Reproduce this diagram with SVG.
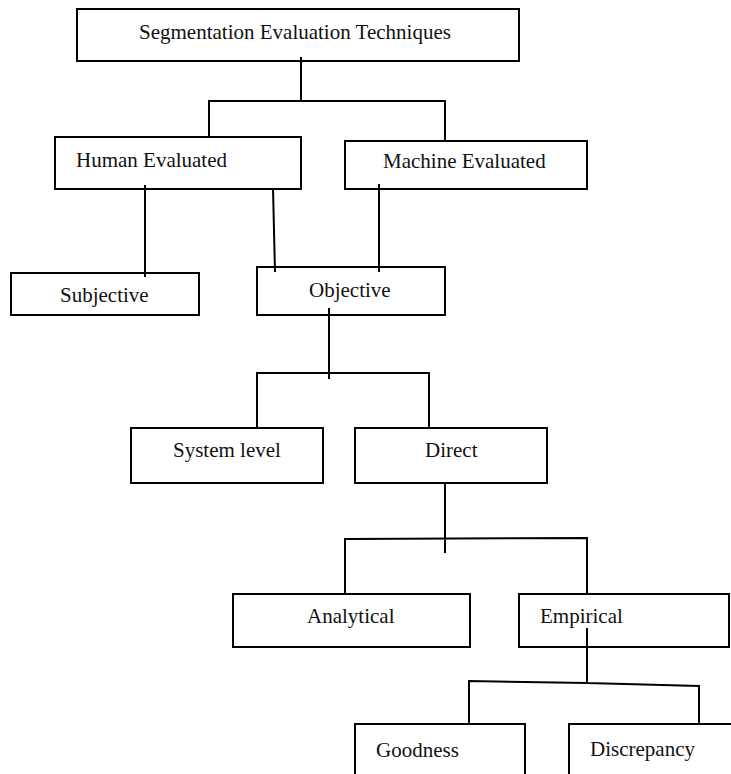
<svg xmlns="http://www.w3.org/2000/svg" width="731" height="774" viewBox="0 0 731 774">
<style>
.box{fill:#fff;stroke:#000;stroke-width:2}
.t{font-family:"Liberation Serif","Times New Roman",serif;font-size:21px;fill:#111}
.c{fill:none;stroke:#000;stroke-width:2}
</style>
<rect width="731" height="774" fill="#fff"/>
<g id="n-root"><rect class="box" x="77" y="9" width="442" height="52"/><text class="t" x="139" y="39">Segmentation Evaluation Techniques</text></g>
<g id="n-human"><rect class="box" x="55" y="137" width="246" height="52"/><text class="t" x="76" y="167">Human Evaluated</text></g>
<g id="n-machine"><rect class="box" x="345" y="141" width="242" height="48"/><text class="t" x="383" y="168">Machine Evaluated</text></g>
<g id="n-subjective"><rect class="box" x="11" y="273" width="188" height="42"/><text class="t" x="60" y="302">Subjective</text></g>
<g id="n-objective"><rect class="box" x="257" y="267" width="188" height="48"/><text class="t" x="309" y="297">Objective</text></g>
<g id="n-system"><rect class="box" x="131" y="428" width="192" height="55"/><text class="t" x="173" y="457">System level</text></g>
<g id="n-direct"><rect class="box" x="355" y="428" width="192" height="55"/><text class="t" x="425" y="457">Direct</text></g>
<g id="n-analytical"><rect class="box" x="233" y="594" width="237" height="53"/><text class="t" x="307" y="623">Analytical</text></g>
<g id="n-empirical"><rect class="box" x="519" y="594" width="210" height="53"/><text class="t" x="540" y="623">Empirical</text></g>
<g id="n-goodness"><rect class="box" x="355" y="724" width="170" height="60"/><text class="t" x="376" y="757">Goodness</text></g>
<g id="n-discrepancy"><rect class="box" x="569" y="724" width="170" height="60"/><text class="t" x="590" y="756">Discrepancy</text></g>
<g id="connectors">
<path class="c" d="M301 57V101M209 137V101H445V141"/>
<path class="c" d="M145 185V277"/>
<path class="c" d="M273 188L275 272" stroke-width="1.6"/>
<path class="c" d="M379 184V272"/>
<path class="c" d="M329 308V379M257 428V373H429V428"/>
<path class="c" d="M445 483V553M345 594V539L587 538V594"/>
<path class="c" d="M587 628V683M469 724V681L587 683L699 686V724"/>
</g>
</svg>
